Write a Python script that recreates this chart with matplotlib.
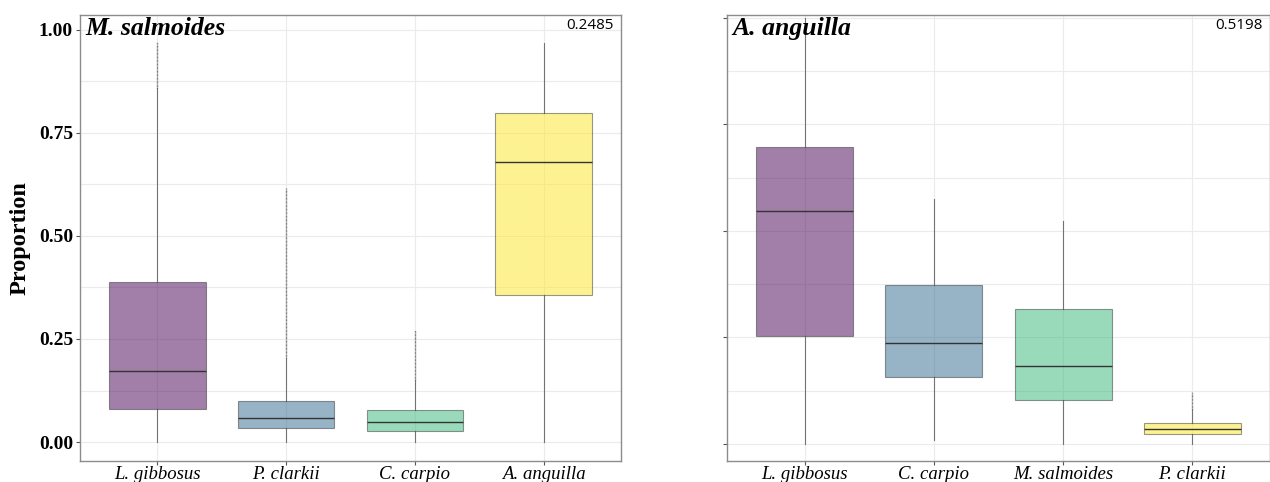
import matplotlib
matplotlib.use("Agg")
from matplotlib import pyplot as plt

# box statistics per predator panel: (whislo, q1, median, q3, whishi)
left_species = ["L. gibbosus", "P. clarkii", "C. carpio", "A. anguilla"]
left_stats = [
    (0.000, 0.080, 0.172, 0.388, 0.859),
    (0.000, 0.034, 0.058, 0.100, 0.204),
    (0.000, 0.027, 0.049, 0.078, 0.150),
    (0.000, 0.357, 0.680, 0.799, 0.968),
]
# outlier spans (lowest, highest) drawn as dense points above the whisker
left_outliers = [(0.859, 0.970), (0.204, 0.617), (0.150, 0.272), None]

right_species = ["L. gibbosus", "C. carpio", "M. salmoides", "P. clarkii"]
right_stats = [
    (0.000, 0.254, 0.546, 0.696, 1.000),
    (0.010, 0.158, 0.238, 0.374, 0.574),
    (0.000, 0.103, 0.183, 0.317, 0.524),
    (0.000, 0.024, 0.035, 0.049, 0.082),
]
right_outliers = [None, None, None, (0.082, 0.122)]

panels = [
    ("M. salmoides", "0.2485", left_species, left_stats, left_outliers),
    ("A. anguilla", "0.5198", right_species, right_stats, right_outliers),
]

colors = ["#440154", "#31688E", "#35B779", "#FDE725"]
serif = ["Liberation Serif", "DejaVu Serif"]

fig = plt.figure(figsize=(12.7, 4.82), dpi=100)
ax_l = fig.add_axes([80 / 1270, 21 / 482, 541 / 1270, 446 / 482])
ax_r = fig.add_axes([727 / 1270, 21 / 482, 543 / 1270, 446 / 482])

for ax, (title, value, species, stats, outliers) in zip([ax_l, ax_r], panels):
    bxp_stats = []
    for name, (lo, q1, med, q3, hi) in zip(species, stats):
        bxp_stats.append({"label": name, "whislo": lo, "q1": q1, "med": med,
                          "q3": q3, "whishi": hi, "fliers": []})
    pos = list(range(1, len(species) + 1))
    bp = ax.bxp(bxp_stats, positions=pos, widths=0.75, patch_artist=True,
                showcaps=False, showfliers=False,
                boxprops=dict(edgecolor="#333333", linewidth=0.8),
                medianprops=dict(color="#333333", linewidth=1.0),
                whiskerprops=dict(color="#555555", linewidth=0.8, alpha=0.8),
                zorder=3)
    for patch, c in zip(bp["boxes"], colors):
        patch.set_facecolor(c)
        patch.set_alpha(0.5)
    for p, span in zip(pos, outliers):
        if span is None:
            continue
        ax.vlines(p, span[0], span[1], color="#666666", linewidth=1.0,
                  linestyles=(0, (0.6, 0.4)), zorder=2)

    ax.set_xlim(0.4, 4.6)
    ax.set_xticks(pos)
    ax.set_xticklabels(species, fontstyle="italic", family=serif, fontsize=13.5)
    ax.set_yticks([0, 0.25, 0.5, 0.75, 1.0])
    ax.set_yticks([0.125, 0.375, 0.625, 0.875], minor=True)
    ax.grid(True, which="both", color="#EBEBEB", linewidth=0.8, zorder=0)
    ax.set_axisbelow(True)
    ax.tick_params(axis="both", which="major", length=3, color="#555555", pad=2)
    ax.tick_params(axis="x", which="major", pad=0.5)
    ax.tick_params(axis="y", which="minor", length=0)
    for s in ax.spines.values():
        s.set_color("#8C8C8C")
        s.set_linewidth(1.0)

    ax.text(0.01, 0.995, title, transform=ax.transAxes, ha="left", va="top",
            family=serif, fontsize=18.5, fontweight="bold", fontstyle="italic")
    ax.text(0.987, 0.993, value, transform=ax.transAxes, ha="right", va="top",
            family=["Open Sans", "DejaVu Sans"], fontsize=11)

ax_l.set_ylim(-0.046, 1.036)
ax_l.set_yticklabels(["0.00", "0.25", "0.50", "0.75", "1.00"],
                     family=serif, fontweight="bold", fontsize=14)
ax_l.set_ylabel("Proportion", family=serif, fontweight="bold", fontsize=17.5, labelpad=6)
ax_r.set_ylim(-0.040, 1.007)
ax_r.set_yticklabels([])

fig.savefig("out.png", dpi=100, facecolor="white")
